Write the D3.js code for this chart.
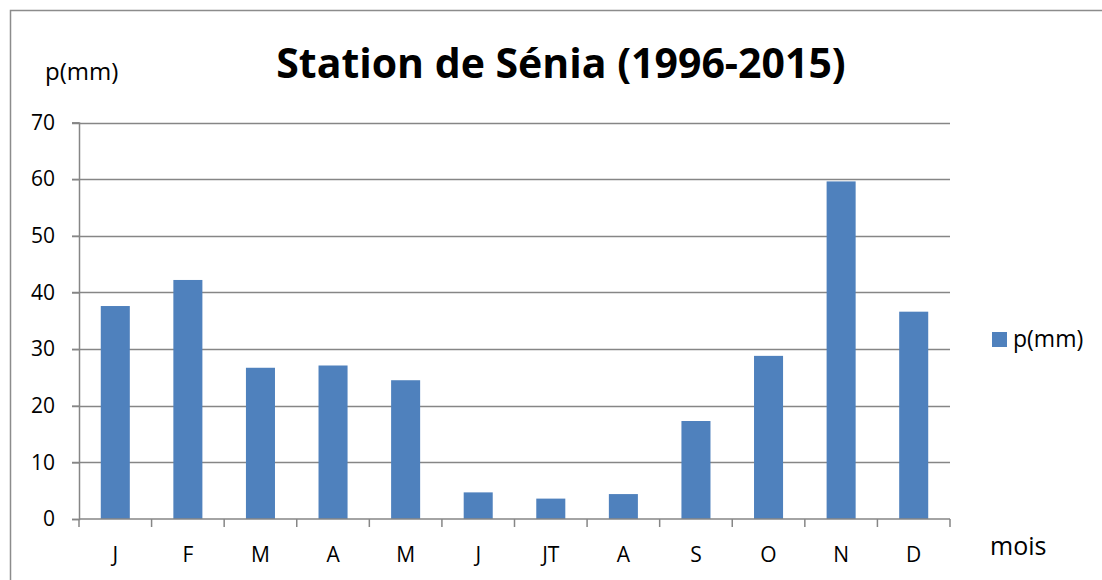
<!DOCTYPE html>
<html>
<head>
<meta charset="utf-8">
<script src="https://cdn.jsdelivr.net/npm/d3@7"></script>
<style>
  body { margin: 0; background: #fff; }
  svg { display: block; font-family: "Open Sans", "Noto Sans", sans-serif; }
</style>
</head>
<body>
<svg id="chart" width="1102" height="580"></svg>
<script>
// monthly rainfall, Sénia station
var months = ["J", "F", "M", "A", "M", "J", "JT", "A", "S", "O", "N", "D"];
var rain = [37.6, 42.2, 26.7, 27.1, 24.5, 4.7, 3.6, 4.4, 17.3, 28.8, 59.6, 36.6];
var yTicks = [0, 10, 20, 30, 40, 50, 60, 70];

var svg = d3.select("#chart");
var plotL = 79, plotR = 950, plotT = 122.5, plotB = 519;

// outer frame (runs off the right and bottom edges)
svg.append("path")
    .attr("d", "M10.5,590 L10.5,10.5 L1110,10.5")
    .attr("fill", "none")
    .attr("stroke", "#8c8c8c")
    .attr("stroke-width", 1.5);

var x = d3.scaleBand().domain(d3.range(months.length)).range([plotL, plotR]).paddingInner(0.6).paddingOuter(0.3);
var xb = d3.scaleBand().domain(d3.range(months.length)).range([plotL, plotR]);
var y = d3.scaleLinear().domain([0, 70]).range([plotB, plotT]);

// gridlines
svg.append("g").selectAll("line").data(yTicks.slice(1)).join("line")
    .attr("x1", plotL - 7).attr("x2", plotR)
    .attr("y1", function(d) { return Math.round(y(d)) + 0.5; })
    .attr("y2", function(d) { return Math.round(y(d)) + 0.5; })
    .attr("stroke", "#868686").attr("stroke-width", 1.5);

// bars
svg.append("g").selectAll("rect").data(rain).join("rect")
    .attr("x", function(d, i) { return x(i); })
    .attr("width", x.bandwidth())
    .attr("y", function(d) { return y(d); })
    .attr("height", function(d) { return y(0) - y(d); })
    .attr("fill", "#4f81bd");

// y axis
var yAxis = svg.append("g").attr("transform", "translate(" + plotL + ",0)")
    .call(d3.axisLeft(y).tickValues(yTicks).tickSize(7).tickPadding(17));
yAxis.select(".domain").attr("stroke", "#868686").attr("stroke-width", 1.5);
yAxis.selectAll(".tick line").attr("stroke", "#868686").attr("stroke-width", 1.5);
yAxis.selectAll("text").attr("font-size", 21).attr("fill", "#000")
    .attr("font-family", "Open Sans, sans-serif");

// x axis with ticks at category boundaries
var xAxis = svg.append("g").attr("transform", "translate(0," + plotB + ")");
xAxis.append("line").attr("x1", plotL).attr("x2", plotR).attr("y1", 0).attr("y2", 0)
    .attr("stroke", "#868686").attr("stroke-width", 1.5);
xAxis.selectAll("line.tk").data(d3.range(months.length + 1)).join("line")
    .attr("class", "tk")
    .attr("x1", function(i) { return plotL + i * xb.bandwidth(); })
    .attr("x2", function(i) { return plotL + i * xb.bandwidth(); })
    .attr("y1", 0).attr("y2", 8)
    .attr("stroke", "#868686").attr("stroke-width", 1.5);
xAxis.selectAll("text").data(months).join("text")
    .attr("x", function(d, i) { return xb(i) + xb.bandwidth() / 2; })
    .attr("y", 43)
    .attr("text-anchor", "middle")
    .attr("font-size", 21)
    .text(function(d) { return d; });

// title and axis labels
svg.append("text").attr("x", 561).attr("y", 78).attr("text-anchor", "middle")
    .attr("font-size", 41).attr("font-weight", "bold")
    .text("Station de Sénia (1996-2015)");
svg.append("text").attr("x", 45).attr("y", 80).attr("font-size", 24).text("p(mm)");
svg.append("text").attr("x", 990).attr("y", 555).attr("font-size", 25).text("mois");

// legend
svg.append("rect").attr("x", 992).attr("y", 332).attr("width", 15).attr("height", 15).attr("fill", "#4f81bd");
svg.append("text").attr("x", 1013).attr("y", 347).attr("font-size", 23).text("p(mm)");
</script>
</body>
</html>
